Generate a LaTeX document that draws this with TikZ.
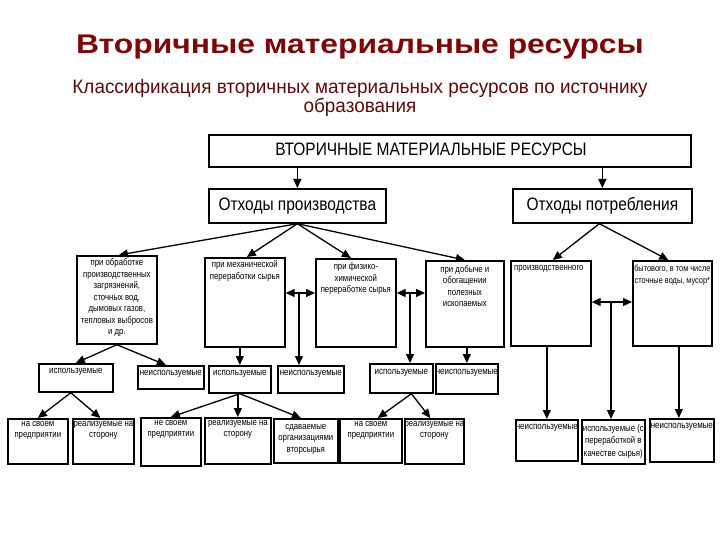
\documentclass[tikz,border=0pt]{standalone}
\usepackage{fontspec}
\setmainfont{Liberation Sans}
\newfontfamily\nar[FakeStretch=0.82]{Liberation Sans}
\newfontfamily\bignar[FakeStretch=0.86]{Liberation Sans}
\newfontfamily\titlefont[FakeStretch=1.18]{Liberation Sans}
\newfontfamily\subfont[FakeStretch=0.97]{Liberation Sans}
\usetikzlibrary{arrows.meta,calc}
\definecolor{titlered}{RGB}{122,8,8}
\definecolor{subred}{RGB}{90,10,10}
\tikzset{
  box/.style={draw, line width=1.7pt, anchor=north west, inner sep=0pt},
  txt/.style={anchor=north, align=center, inner sep=0pt, font=\nar\fontsize{9.5}{11.5}\selectfont},
  word/.style={anchor=north, align=center, inner sep=0pt, font=\nar\fontsize{9.7}{12}\selectfont},
  big/.style={inner sep=0pt, font=\bignar\fontsize{18}{20}\selectfont},
  arr/.style={line width=1.3pt, -{Triangle[length=9pt,width=8pt]}},
  darr/.style={line width=1.3pt, {Triangle[length=9pt,width=8pt]}-{Triangle[length=9pt,width=8pt]}},
}
\begin{document}
\begin{tikzpicture}[x=1pt,y=-1pt]
\useasboundingbox (0,0) rectangle (720,540);
% titles
\node[titlered, font=\titlefont\bfseries\fontsize{27}{30}\selectfont] (title) at (360,47) {Вторичные материальные ресурсы};
\node[subred, align=center, font=\subfont\fontsize{19.5}{18}\selectfont] (sub) at (360,98) {Классификация вторичных материальных ресурсов по источнику\\образования};
% level 1-2
\node[box, minimum width=482pt, minimum height=32pt] (top) at (208,134) {};
\node[big] (toptxt) at (431,149) {ВТОРИЧНЫЕ МАТЕРИАЛЬНЫЕ РЕСУРСЫ};
\node[box, minimum width=177pt, minimum height=34pt] (p) at (208,188) {};
\node[big] (ptxt) at (p.center) {Отходы производства};
\node[box, minimum width=179pt, minimum height=34pt] (c) at (512,188) {};
\node[big] (ctxt) at (c.center) {Отходы потребления};
\draw[arr] (p.north |- top.south) -- (p.north);
\draw[arr] (c.north |- top.south) -- (c.north);
% level 3
\node[box, minimum width=80pt, minimum height=88pt] (a) at (76,255) {};
\node[box, minimum width=80pt, minimum height=89pt] (b) at (204,257) {};
\node[box, minimum width=80pt, minimum height=88pt] (cb) at (315,258) {};
\node[box, minimum width=78pt, minimum height=86pt] (d) at (425,260) {};
\node[box, minimum width=80pt, minimum height=85pt] (e) at (510,260) {};
\node[box, minimum width=79pt, minimum height=85pt] (f) at (632,260) {};
\node[txt] (atxt) at ($(a.north)+(0,3.5)$) {при обработке\\производственных\\загрязнений,\\сточных вод,\\дымовых газов,\\тепловых выбросов\\и др.};
\node[txt] (btxt) at ($(b.north)+(0,3.5)$) {при механической\\переработки сырья};
\node[txt] (cbtxt) at ($(cb.north)+(0,4.5)$) {при физико-\\химической\\переработке сырья};
\node[txt] (dtxt) at ($(d.north)+(0,5)$) {при добыче и\\обогащении\\полезных\\ископаемых};
\node[txt] (etxt) at ($(e.north)+(-2,5)$) {производственного};
\node[txt, font=\nar\fontsize{9}{11.5}\selectfont] (ftxt) at ($(f.north)+(0,5)$) {бытового, в том числе\\сточные воды, мусор*};
\draw[arr] (p.south) -- ($(a.north)+(2,0)$);
\draw[arr] (p.south) -- ($(b.north)+(2,0)$);
\draw[arr] (p.south) -- ($(cb.north)+(-5,0)$);
\draw[arr] (p.south) -- (d.north);
\draw[arr] ($(c.south)+(-3,0)$) -- ($(e.north)+(2,0)$);
\draw[arr] ($(c.south)+(-3,0)$) -- ($(f.north)+(-4,0)$);
% level 4
\node[box, minimum width=74pt, minimum height=28pt] (au) at (38,363) {};
\node[box, minimum width=66pt, minimum height=23pt] (an) at (137,365) {};
\node[box, minimum width=62pt, minimum height=27pt] (bu) at (208,365) {};
\node[box, minimum width=66pt, minimum height=27pt] (bn) at (277,365) {};
\node[box, minimum width=63pt, minimum height=29pt] (du) at (369,363) {};
\node[box, minimum width=62pt, minimum height=30pt] (dn) at (435,363) {};
\node[word] (autxt) at ($(au.north)+(0,5)$) {используемые};
\node[word] (antxt) at ($(an.north)+(0,5)$) {неиспользуемые};
\node[word] (butxt) at ($(bu.north)+(0,5)$) {используемые};
\node[word] (bntxt) at ($(bn.north)+(0,5)$) {неиспользуемые};
\node[word] (dutxt) at ($(du.north)+(0,6)$) {используемые};
\node[word] (dntxt) at ($(dn.north)+(0,6)$) {неиспользуемые};
\draw[arr] (a.south) -- (au.north);
\draw[arr] (a.south) -- ($(an.north)+(-5,0)$);
\draw[arr] (bu.north |- b.south) -- (bu.north);
\draw[arr] (dn.north |- d.south) -- (dn.north);
\coordinate (bc) at (299,293);
\coordinate (cd) at (410,293);
\coordinate (ef) at (611,302);
\draw[darr] (bc -| b.east) -- (bc -| cb.west);
\draw[darr] (cd -| cb.east) -- (cd -| d.west);
\draw[darr] (ef -| e.east) -- (ef -| f.west);
\draw[arr] (bc) -- (bc |- bn.north);
\draw[arr] (cd) -- (cd |- du.north);
% level 5
\node[box, minimum width=60pt, minimum height=45pt] (r1) at (7,418) {};
\node[box, minimum width=61pt, minimum height=45pt] (r2) at (72,418) {};
\node[box, minimum width=60pt, minimum height=48pt] (r3) at (140,417) {};
\node[box, minimum width=66pt, minimum height=46pt] (r4) at (204,417) {};
\node[box, minimum width=64pt, minimum height=44pt] (r5) at (273,418) {};
\node[box, minimum width=62pt, minimum height=44pt] (r6) at (339,418) {};
\node[box, minimum width=59pt, minimum height=45pt] (r7) at (404,418) {};
\node[box, minimum width=62pt, minimum height=41pt] (r8) at (515,419) {};
\node[box, minimum width=63pt, minimum height=44pt] (r9) at (581,419) {};
\node[box, minimum width=64pt, minimum height=43pt] (r10) at (649,418) {};
\node[txt] (r1txt) at ($(r1.north)+(0,3)$) {на своем\\предприятии};
\node[txt] (r2txt) at ($(r2.north)+(0,3)$) {реализуемые на\\сторону};
\node[txt] (r3txt) at ($(r3.north)+(0,3)$) {не своем\\предприятии};
\node[txt] (r4txt) at ($(r4.north)+(0,3)$) {реализуемые на\\сторону};
\node[txt] (r5txt) at ($(r5.north)+(0,6)$) {сдаваемые\\организациями\\вторсырья};
\node[txt] (r6txt) at ($(r6.north)+(0,3)$) {на своем\\предприятии};
\node[txt] (r7txt) at ($(r7.north)+(0,3)$) {реализуемые на\\сторону};
\node[word] (r8txt) at ($(r8.north)+(0,5)$) {неиспользуемые};
\node[txt, font=\nar\fontsize{9.5}{12.5}\selectfont] (r9txt) at ($(r9.north)+(0,5)$) {используемые (с\\переработкой в\\качестве сырья)};
\node[word] (r10txt) at ($(r10.north)+(0,5)$) {неиспользуемые};
\draw[arr] ($(au.south)+(-5,0)$) -- (r1.north);
\draw[arr] ($(au.south)+(-5,0)$) -- ($(r2.north)+(-3,0)$);
\draw[arr] (bu.south) -- (r3.north);
\draw[arr] (r4.north |- bu.south) -- (r4.north);
\draw[arr] (bu.south) -- ($(r5.north)+(-5,0)$);
\draw[arr] ($(du.south)+(10,0)$) -- ($(r6.north)+(7,0)$);
\draw[arr] ($(du.south)+(10,0)$) -- ($(r7.north)+(-4,0)$);
\draw[arr] (r8.north |- e.south) -- (r8.north);
\draw[arr] (ef) -- (ef |- r9.north);
\draw[arr] ($(r10.north |- f.south)+(-3,0)$) -- ($(r10.north)+(-3,0)$);
\end{tikzpicture}
\end{document}
